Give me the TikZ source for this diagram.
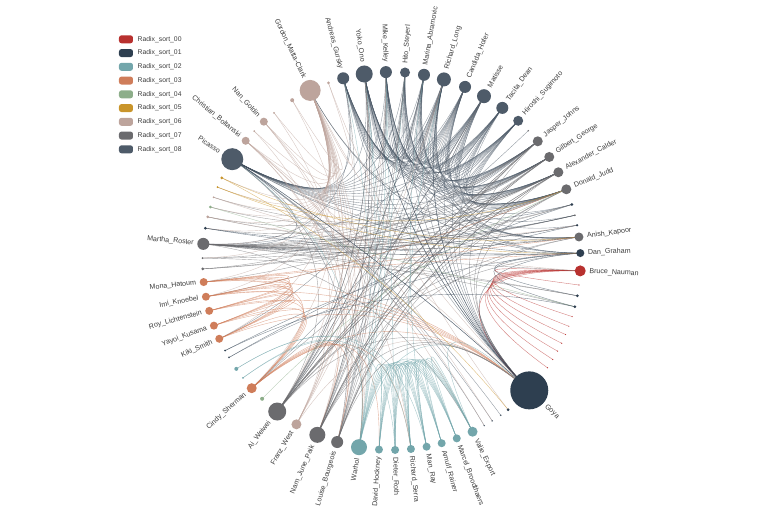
\documentclass[tikz,border=0pt]{standalone}
\usepackage{fontspec}
\setmainfont{Liberation Sans}
\usetikzlibrary{calc,backgrounds}
\definecolor{c00}{HTML}{B8312F}
\definecolor{c01}{HTML}{2E3F50}
\definecolor{c02}{HTML}{73A6AB}
\definecolor{c03}{HTML}{CF7D5A}
\definecolor{c04}{HTML}{8DAE8A}
\definecolor{c05}{HTML}{C9952B}
\definecolor{c06}{HTML}{BDA49C}
\definecolor{c07}{HTML}{6B6B6E}
\definecolor{c08}{HTML}{4E5B69}
\definecolor{lbl}{HTML}{3C3C3C}
\tikzset{
  lab/.style={font=\fontsize{7.1}{8}\selectfont, text=lbl, inner sep=0pt},
  lnk/.style={line width=0.4pt, opacity=0.6},
  dot/.style={circle, inner sep=0pt, draw=none},
  legbox/.style={rounded corners=2.5pt, minimum width=14pt, minimum height=8pt, inner sep=0pt},
  legtxt/.style={font=\fontsize{6.8}{8}\selectfont, text=lbl, anchor=west, inner sep=0pt}
}
\newcommand\mknode[5]{%
  \node[dot, fill=#4, minimum size={2*#3}] (#1) at (#2:189) {};
  \pgfmathsetmacro\labr{189+#3+3.5}%
  \pgfmathtruncatemacro\side{cos(#2)>=0}%
  \ifnum\side=1
    \node[lab, anchor=west, rotate=#2] (#1l) at (#2:\labr) {#5};
  \else
    \node[lab, anchor=east, rotate=#2+180] (#1l) at (#2:\labr) {#5};
  \fi}
\newcommand\mktiny[4]{\node[dot, fill=#4, minimum size={2*#3}] (#1) at (#2:189) {};}
\newcommand\cnx[3]{\draw[lnk, #3] (#1.center) .. controls ($0.3667*(#1.center)+0.0333*(#2.center)$) and ($0.0333*(#1.center)+0.3667*(#2.center)$) .. (#2.center);}
\newcommand\fanout[3]{\foreach \t in {#3}{\cnx{#1}{\t}{#2}}}
\newcommand\mesh[2]{\foreach \a [count=\i] in {#2}{\foreach \b [count=\j] in {#2}{\ifnum\i<\j \cnx{\a}{\b}{#1}\fi}}}
\begin{document}
\begin{tikzpicture}[x=1pt,y=1pt]
\useasboundingbox (-391.5,-255) rectangle (376.5,261);
% nodes
\mknode{bru}{-3.0}{5.5}{c00}{Bruce\_Nauman}
\mknode{dan}{2.4}{4}{c01}{Dan\_Graham}
\mknode{ani}{7.3}{4.5}{c07}{Anish\_Kapoor}
\mktiny{t1}{10.9}{1.2}{c01}
\mktiny{t2}{14.0}{1}{c07}
\mktiny{t3}{17.4}{1.5}{c01}
\mknode{jud}{22.3}{5}{c07}{Donald\_Judd}
\mknode{cal}{28.0}{5}{c07}{Alexander\_Calder}
\mknode{gil}{33.4}{5}{c07}{Gilbert\_George}
\mknode{jas}{39.3}{5}{c07}{Jasper\_Johns}
\mktiny{t4}{43.6}{0.8}{c07}
\mknode{sug}{47.9}{5}{c08}{Hiroshi\_Sugimoto}
\mknode{dea}{54.1}{6}{c08}{Tacita\_Dean}
\mknode{mat}{60.7}{7}{c08}{Matisse}
\mknode{hof}{67.1}{6}{c08}{Candida\_Hofer}
\mknode{lon}{73.9}{7}{c08}{Richard\_Long}
\mknode{abr}{80.1}{6}{c08}{Marina\_Abramovic}
\mknode{ste}{85.9}{5}{c08}{Hito\_Steyerl}
\mknode{kel}{91.7}{6}{c08}{Mike\_Kelley}
\mknode{ono}{98.3}{8.5}{c08}{Yoko\_Ono}
\mknode{gur}{104.8}{6}{c08}{Andreas\_Gursky}
\mktiny{t5}{109.5}{1.5}{c06}
\mknode{gmc}{115.5}{10.5}{c06}{Gordon\_Matta-Clark}
\mktiny{t6}{121.7}{2}{c06}
\mktiny{t7}{128.4}{1}{c06}
\mknode{gol}{132.5}{4}{c06}{Nan\_Goldin}
\mktiny{t8}{136.6}{1}{c06}
\mknode{bol}{140.5}{4}{c06}{Christian\_Boltanski}
\mknode{pic}{147.4}{11}{c08}{Picasso}
\mktiny{t9}{153.9}{1.5}{c05}
\mktiny{t10}{157.0}{1}{c05}
\mktiny{t11}{160.3}{1}{c06}
\mktiny{t12}{163.4}{1.5}{c04}
\mktiny{t13}{166.5}{1.5}{c06}
\mktiny{t14}{170.0}{1.5}{c01}
\mknode{ros}{174.8}{6}{c07}{Martha\_Rosler}
\mktiny{t15}{179.1}{1}{c07}
\mktiny{t16}{182.4}{1.5}{c07}
\mknode{hat}{186.4}{4}{c03}{Mona\_Hatoum}
\mknode{kno}{190.9}{4}{c03}{Imi\_Knoebel}
\mknode{lic}{195.3}{4}{c03}{Roy\_Lichtenstein}
\mknode{kus}{200.0}{4}{c03}{Yayoi\_Kusama}
\mknode{smi}{204.3}{4}{c03}{Kiki\_Smith}
\mktiny{t17}{208.3}{1}{c01}
\mktiny{t18}{210.7}{1}{c08}
\mktiny{t19}{214.8}{2}{c02}
\mktiny{t20}{218.2}{1}{c02}
\mknode{she}{222.3}{5}{c03}{Cindy\_Sherman}
\mktiny{t21}{226.8}{2}{c04}
\mknode{wei}{232.8}{9}{c07}{Ai\_Weiwei}
\mknode{wes}{239.8}{5}{c06}{Franz\_West}
\mknode{pai}{246.9}{8}{c07}{Nam\_June\_Paik}
\mknode{bou}{253.3}{6}{c07}{Louise\_Bourgeois}
\mknode{war}{260.1}{8}{c02}{Warhol}
\mknode{hoc}{266.2}{4}{c02}{David\_Hockney}
\mknode{rot}{271.1}{4}{c02}{Dieter\_Roth}
\mknode{ser}{275.9}{4}{c02}{Richard\_Serra}
\mknode{ray}{280.7}{4}{c02}{Man\_Ray}
\mknode{rai}{285.4}{4}{c02}{Arnulf\_Rainer}
\mknode{bro}{290.2}{4}{c02}{Marcel\_Broodthaers}
\mknode{exp}{295.4}{5}{c02}{Valie\_Export}
\mktiny{t22}{299.4}{0.8}{c08}
\mktiny{t23}{302.2}{0.8}{c08}
\mktiny{t24}{305.3}{0.8}{c08}
\mktiny{t25}{308.1}{1.5}{c01}
\mknode{goy}{316.8}{19}{c01}{Goya}
\mktiny{r1}{325.6}{0.6}{c00}
\mktiny{r2}{328.6}{0.6}{c00}
\mktiny{r3}{331.5}{0.6}{c00}
\mktiny{r4}{334.2}{0.6}{c00}
\mktiny{r5}{337.1}{0.6}{c00}
\mktiny{r6}{339.8}{0.6}{c00}
\mktiny{r7}{342.9}{0.6}{c00}
\mktiny{d1}{346.0}{1.5}{c01}
\mktiny{d2}{349.4}{1.5}{c01}
\mktiny{r8}{352.7}{0.6}{c00}
% legend
\foreach \c/\n [count=\k from 0] in {c00/00,c01/01,c02/02,c03/03,c04/04,c05/05,c06/06,c07/07,c08/08}{
  \node[legbox, fill=\c] (lb\n) at (-265.5,{221.7-13.75*\k}) {};
  \node[legtxt] (lt\n) at (-254,{221.7-13.75*\k}) {Radix\_sort\_\n};
}
% edges
\begin{pgfonlayer}{background}
\mesh{c08}{gur,ono,kel,ste,abr,lon,hof,mat,dea,sug}
\fanout{gur}{c08}{jas,gil,cal,jud,goy,ros}
\fanout{ono}{c08}{jas,gil,cal,jud,ani,dan,goy,pai,wei,t3}
\fanout{kel}{c08}{jas,gil,cal,jud,ani,goy,bou}
\fanout{ste}{c08}{jas,gil,cal,jud,t1,goy}
\fanout{abr}{c08}{jas,gil,cal,jud,ani,wei,goy}
\fanout{lon}{c08}{jas,gil,cal,jud,ani,dan,goy,pai,smi}
\fanout{hof}{c08}{jas,gil,cal,jud,t2,goy}
\fanout{mat}{c08}{jas,gil,cal,jud,ani,goy,wei,ros}
\fanout{dea}{c08}{jas,gil,cal,jud,goy,she}
\fanout{sug}{c08}{jas,gil,cal,jud,t4}
\fanout{pic}{c08}{gur,ono,kel,ste,abr,lon,hof,mat,dea,sug,jas,gil,cal,jud,goy,t22,t23,t24,ros,bou}
\fanout{jas}{c07}{ros,pai,wei,bou,t13,t16,goy}
\fanout{gil}{c07}{ros,pai,wei,t14,t15,she}
\fanout{cal}{c07}{ros,wei,bou,t12,hat,goy}
\fanout{jud}{c07}{ros,pai,t11,t16,kno,goy}
\fanout{ani}{c07}{ros,wei,t13,pic,gmc}
\fanout{t2}{c07}{ros,t15}
\fanout{dan}{c01}{d1,d2,ros,pic,gmc,t14,goy}
\fanout{t1}{c01}{t17,ros}
\fanout{t3}{c01}{t18,pic}
\fanout{bru}{c00}{r1,r2,r3,r4,r5,r6,r7,r8,goy}
\fanout{gmc}{c06}{t5,t6,t7,gol,t8,bol,t9,t10,t11,t12,t15,hat,kno,goy,wes,pai,wei,bou,ros,t14,t13,she,war,smi}
\fanout{bol}{c06}{goy,war,bou,exp,t22}
\fanout{gol}{c06}{ser,war,t23}
\fanout{t5}{c06}{t25}
\fanout{t6}{c06}{bou}
\fanout{t7}{c06}{pai}
\fanout{t8}{c06}{wes}
\fanout{ros}{c07}{dan,ani,t1,t2,t3,bru,d1,d2,jud,cal,exp}
\mesh{c03}{hat,kno,lic,kus,smi,she}
\fanout{hat}{c03}{goy,ani,dan}
\fanout{kno}{c03}{goy,jud}
\fanout{lic}{c03}{goy}
\fanout{kus}{c03}{goy}
\fanout{smi}{c03}{goy}
\fanout{she}{c03}{goy,war,hoc,ser,bou,pai}
\mesh{c02}{war,hoc,rot,ser,ray,rai,bro,exp}
\fanout{war}{c02}{gur,ono,kel,pic,ste,goy}
\fanout{hoc}{c02}{ono}
\fanout{rot}{c02}{kel}
\fanout{ser}{c02}{lon}
\fanout{ray}{c02}{abr}
\fanout{exp}{c02}{goy}
\fanout{t19}{c02}{ser,ray}
\fanout{t20}{c02}{war,rot}
\fanout{wei}{c07}{ono,kel,abr,gur,lon,mat,jas,gil,cal,goy,pic,dan}
\fanout{pai}{c07}{ono,kel,ste,hof,jas,gil,goy,ani}
\fanout{bou}{c07}{ono,ste,lon,mat,cal,jud,goy}
\fanout{wes}{c06}{gmc,ono,kel,lon,goy}
\fanout{t9}{c05}{ani,t25}
\fanout{t10}{c05}{jud,dan}
\fanout{t11}{c06}{bru}
\fanout{t12}{c04}{d1}
\fanout{t13}{c06}{t1}
\fanout{t14}{c01}{t2}
\fanout{t15}{c07}{d2}
\fanout{t16}{c07}{t3}
\fanout{t17}{c01}{d1}
\fanout{t18}{c08}{dan}
\fanout{t21}{c04}{jud}
\fanout{goy}{c01}{ono,kel,lon,pic}
\end{pgfonlayer}
\end{tikzpicture}
\end{document}
